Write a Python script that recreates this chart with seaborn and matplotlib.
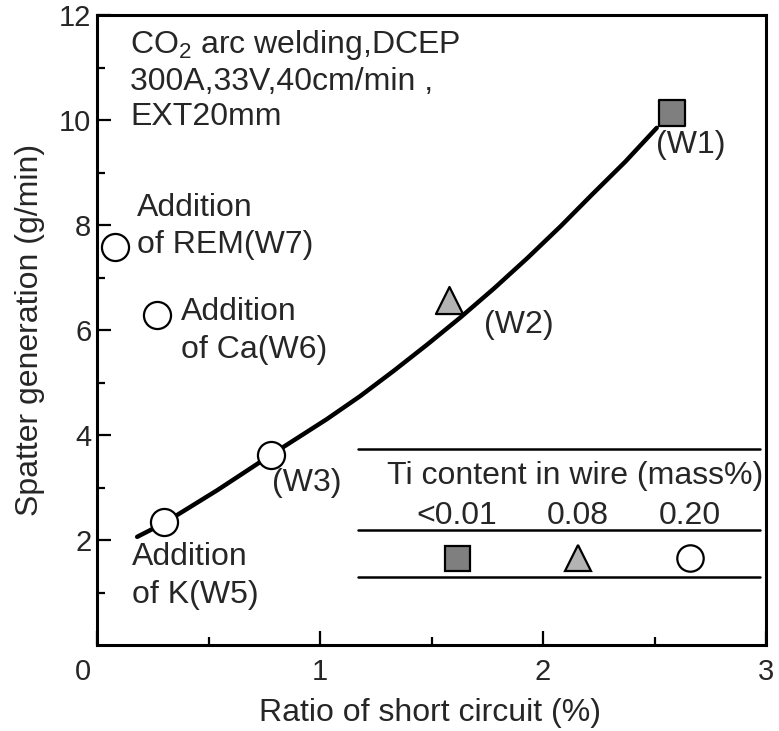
import matplotlib
matplotlib.use("Agg")
import matplotlib.pyplot as plt
import matplotlib.transforms as mtransforms
import seaborn as sns
import pandas as pd

# Fitted trend of spatter vs. short-circuit ratio
curve_x = [0.18, 0.30, 0.54, 0.78, 1.03, 1.18, 1.33, 1.48, 1.63, 1.78, 1.93, 2.08, 2.22, 2.37, 2.51]
curve_y = [2.06, 2.32, 2.95, 3.62, 4.30, 4.74, 5.22, 5.72, 6.24, 6.79, 7.37, 7.98, 8.58, 9.21, 9.85]

# Measured wires
wire_names = ["W1", "W2", "W3", "W5", "W6", "W7"]
wire_x = [2.58, 1.58, 0.78, 0.30, 0.27, 0.08]
wire_y = [10.13, 6.57, 3.62, 2.34, 6.29, 7.58]
wire_ti = ["<0.01", "0.08", "0.20", "0.20", "0.20", "0.20"]

ti_levels = ["<0.01", "0.08", "0.20"]
ti_markers = {"<0.01": "s", "0.08": "^", "0.20": "o"}
ti_colors = {"<0.01": "#7f7f7f", "0.08": "#b3b3b3", "0.20": "#ffffff"}

sns.set_style("ticks")
plt.rcParams["font.family"] = ["Liberation Sans", "DejaVu Sans"]
plt.rcParams["mathtext.fontset"] = "custom"
plt.rcParams["mathtext.rm"] = "Liberation Sans"
plt.rcParams["mathtext.it"] = "Liberation Sans"

FS = 23
TICK_FS = 21

fig = plt.figure(figsize=(7.79, 7.31), dpi=100)
ax = fig.add_axes([97 / 779, 1 - 645 / 731, 669 / 779, 630 / 731])

curve = pd.DataFrame({"x": curve_x, "y": curve_y})
sns.lineplot(data=curve, x="x", y="y", ax=ax, color="black", lw=3.2,
             sort=False, estimator=None, zorder=2)

wires = pd.DataFrame({"x": wire_x, "y": wire_y, "ti": wire_ti, "name": wire_names})
for lvl in ti_levels:
    sub = wires[wires["ti"] == lvl]
    size = 330 if lvl == "<0.01" else 380
    sns.scatterplot(data=sub, x="x", y="y", ax=ax, marker=ti_markers[lvl],
                    color=ti_colors[lvl], edgecolor="black", linewidth=1.6,
                    s=size, zorder=3, legend=False)

ax.set_xlim(0, 3)
ax.set_ylim(0, 12)
ax.set_xticks([0, 1, 2, 3])
ax.set_xticks([0.5, 1.5, 2.5], minor=True)
ax.set_yticks([2, 4, 6, 8, 10, 12])
ax.set_yticks([1, 3, 5, 7, 9, 11], minor=True)
ax.tick_params(axis="both", which="major", direction="in", length=10, width=1.6,
               labelsize=TICK_FS, color="black")
ax.tick_params(axis="both", which="minor", direction="in", length=5.5, width=1.6,
               color="black")
ax.tick_params(axis="x", which="major", pad=9)
ax.tick_params(axis="y", which="major", pad=4)
for s in ax.spines.values():
    s.set_linewidth(2.2)
    s.set_color("black")

# origin label sits a bit left of the corner
for lbl in ax.get_xticklabels():
    if lbl.get_text() == "0":
        lbl.set_transform(lbl.get_transform() +
                          mtransforms.ScaledTranslation(-0.14, 0, fig.dpi_scale_trans))

ax.set_xlabel("Ratio of short circuit (%)", fontsize=FS)
ax.set_ylabel("Spatter generation (g/min)", fontsize=FS)
ax.xaxis.set_label_coords(0.498, -0.084)
ax.yaxis.set_label_coords(-0.078, 0.5)

# welding conditions
ax.text(0.148, 11.43, r"CO$_{\mathrm{2}}$ arc welding,DCEP", fontsize=FS, va="center")
ax.text(0.148, 10.72, "300A,33V,40cm/min ,", fontsize=FS, va="center")
ax.text(0.148, 10.06, "EXT20mm", fontsize=FS, va="center")

# point annotations
notes = [
    (0.179, 8.32, "Addition"), (0.179, 7.62, "of REM(W7)"),
    (0.377, 6.34, "Addition"), (0.377, 5.62, "of Ca(W6)"),
    (0.157, 1.68, "Addition"), (0.157, 0.95, "of K(W5)"),
    (1.735, 6.10, "(W2)"), (0.785, 3.09, "(W3)"), (2.507, 9.52, "(W1)"),
]
for x, y, t in notes:
    ax.text(x, y, t, fontsize=FS, va="center")

# Ti content key
for yy in [3.73, 2.19, 1.30]:
    ax.plot([1.17, 2.973], [yy, yy], color="black", lw=1.8, zorder=1)
ax.text(2.143, 3.22, "Ti content in wire (mass%)", fontsize=FS, ha="center", va="center")
key_x = [1.614, 2.157, 2.659]
for kx, lvl in zip(key_x, ti_levels):
    ax.text(kx, 2.46, lvl, fontsize=FS, ha="center", va="center")
    ax.plot([kx], [1.66], marker=ti_markers[lvl], markersize=18 if lvl == "<0.01" else 19,
            markerfacecolor=ti_colors[lvl], markeredgecolor="black",
            markeredgewidth=1.6, linestyle="none", zorder=3)

fig.savefig("out.png", dpi=100)
